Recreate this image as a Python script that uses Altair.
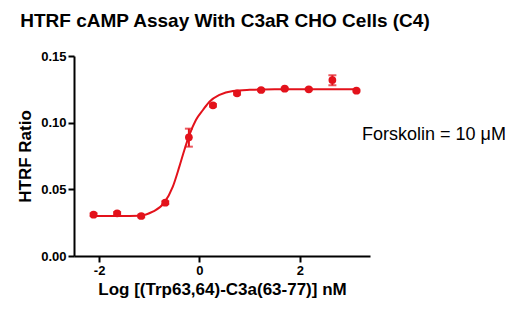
import altair as alt
import pandas as pd

# Observed data (log concentration, HTRF ratio)
log_conc = [-2.11, -1.64, -1.16, -0.68, -0.21, 0.27, 0.75, 1.23, 1.70, 2.18, 2.65, 3.13]
ratio = [0.031, 0.032, 0.030, 0.040, 0.089, 0.113, 0.122, 0.1245, 0.1255, 0.125, 0.132, 0.124]
err_low = [0.030, 0.031, 0.029, 0.039, 0.082, 0.112, 0.121, 0.1237, 0.1248, 0.1243, 0.128, 0.1233]
err_high = [0.032, 0.033, 0.031, 0.041, 0.0955, 0.114, 0.123, 0.1253, 0.1262, 0.1257, 0.1355, 0.1247]

# Fitted curve
curve_x = [-2.11, -1.6, -1.2, -0.93, -0.70, -0.53, -0.40, -0.30, -0.20, -0.07, 0.07, 0.20, 0.40, 0.67, 1.0, 1.5, 2.0, 2.5, 3.13]
curve_y = [0.030, 0.030, 0.0302, 0.0332, 0.040, 0.052, 0.067, 0.0795, 0.0908, 0.102, 0.1095, 0.1157, 0.1208, 0.1238, 0.1246, 0.125, 0.125, 0.125, 0.125]

title_text = "HTRF cAMP Assay With C3aR CHO Cells (C4)"
note_text = "Forskolin = 10 \u03bcM"
x_title = "Log [(Trp63,64)-C3a(63-77)] nM"
y_title = "HTRF Ratio"

RED = "#e3121b"
FONT = "Liberation Sans"

pts = pd.DataFrame({"x": log_conc, "y": ratio, "lo": err_low, "hi": err_high})
crv = pd.DataFrame({"x": curve_x, "y": curve_y})

xs = alt.Scale(domain=[-2.5, 3.4], nice=False, zero=False)
ys = alt.Scale(domain=[0, 0.15], nice=False)

x_axis = alt.Axis(values=[-2, 0, 2], labelExpr="datum.value", title=x_title, grid=False,
                  domainColor="black", domainWidth=2, tickColor="black", tickWidth=2, tickSize=6,
                  labelFont=FONT, labelFontSize=13, labelFontWeight="bold", labelColor="black",
                  labelPadding=2, titleFont=FONT, titleFontSize=17, titleFontWeight="bold",
                  titleColor="black", titlePadding=4)
y_axis = alt.Axis(values=[0, 0.05, 0.10, 0.15], format=".2f", title=y_title, grid=False,
                  domainColor="black", domainWidth=2, tickColor="black", tickWidth=2, tickSize=6,
                  labelFont=FONT, labelFontSize=13, labelFontWeight="bold", labelColor="black",
                  labelPadding=2, titleFont=FONT, titleFontSize=17, titleFontWeight="bold",
                  titleColor="black", titlePadding=6)

line = alt.Chart(crv).mark_line(color=RED, strokeWidth=2, interpolate="monotone").encode(
    x=alt.X("x:Q", scale=xs, axis=x_axis),
    y=alt.Y("y:Q", scale=ys, axis=y_axis),
)

bars = alt.Chart(pts).mark_rule(color=RED, strokeWidth=2).encode(
    x=alt.X("x:Q", scale=xs), y=alt.Y("lo:Q", scale=ys), y2="hi:Q")
cap_lo = alt.Chart(pts).mark_tick(color=RED, thickness=2, size=8, orient="horizontal").encode(
    x=alt.X("x:Q", scale=xs), y=alt.Y("lo:Q", scale=ys))
cap_hi = alt.Chart(pts).mark_tick(color=RED, thickness=2, size=8, orient="horizontal").encode(
    x=alt.X("x:Q", scale=xs), y=alt.Y("hi:Q", scale=ys))

dots = alt.Chart(pts).mark_point(filled=True, color=RED, opacity=1, size=60, shape="circle").encode(
    x=alt.X("x:Q", scale=xs), y=alt.Y("y:Q", scale=ys))

title = alt.Chart(pd.DataFrame({"t": [title_text]})).mark_text(
    font=FONT, fontSize=19, fontWeight="bold", color="black", align="center", baseline="middle"
).encode(text="t:N", x=alt.value(151), y=alt.value(-35))

note = alt.Chart(pd.DataFrame({"t": [note_text]})).mark_text(
    font=FONT, fontSize=18, color="black", align="left", baseline="middle"
).encode(text="t:N", x=alt.value(288), y=alt.value(79))

chart = alt.layer(line, bars, cap_lo, cap_hi, dots, title, note).properties(
    width=296, height=200,
    padding={"left": 74, "top": 56, "right": 157, "bottom": 61},
    autosize=alt.AutoSizeParams(type="none"),
    background="white",
).configure_view(stroke=None)

chart.save("out.html", embed_options={"renderer": "svg", "actions": False})
